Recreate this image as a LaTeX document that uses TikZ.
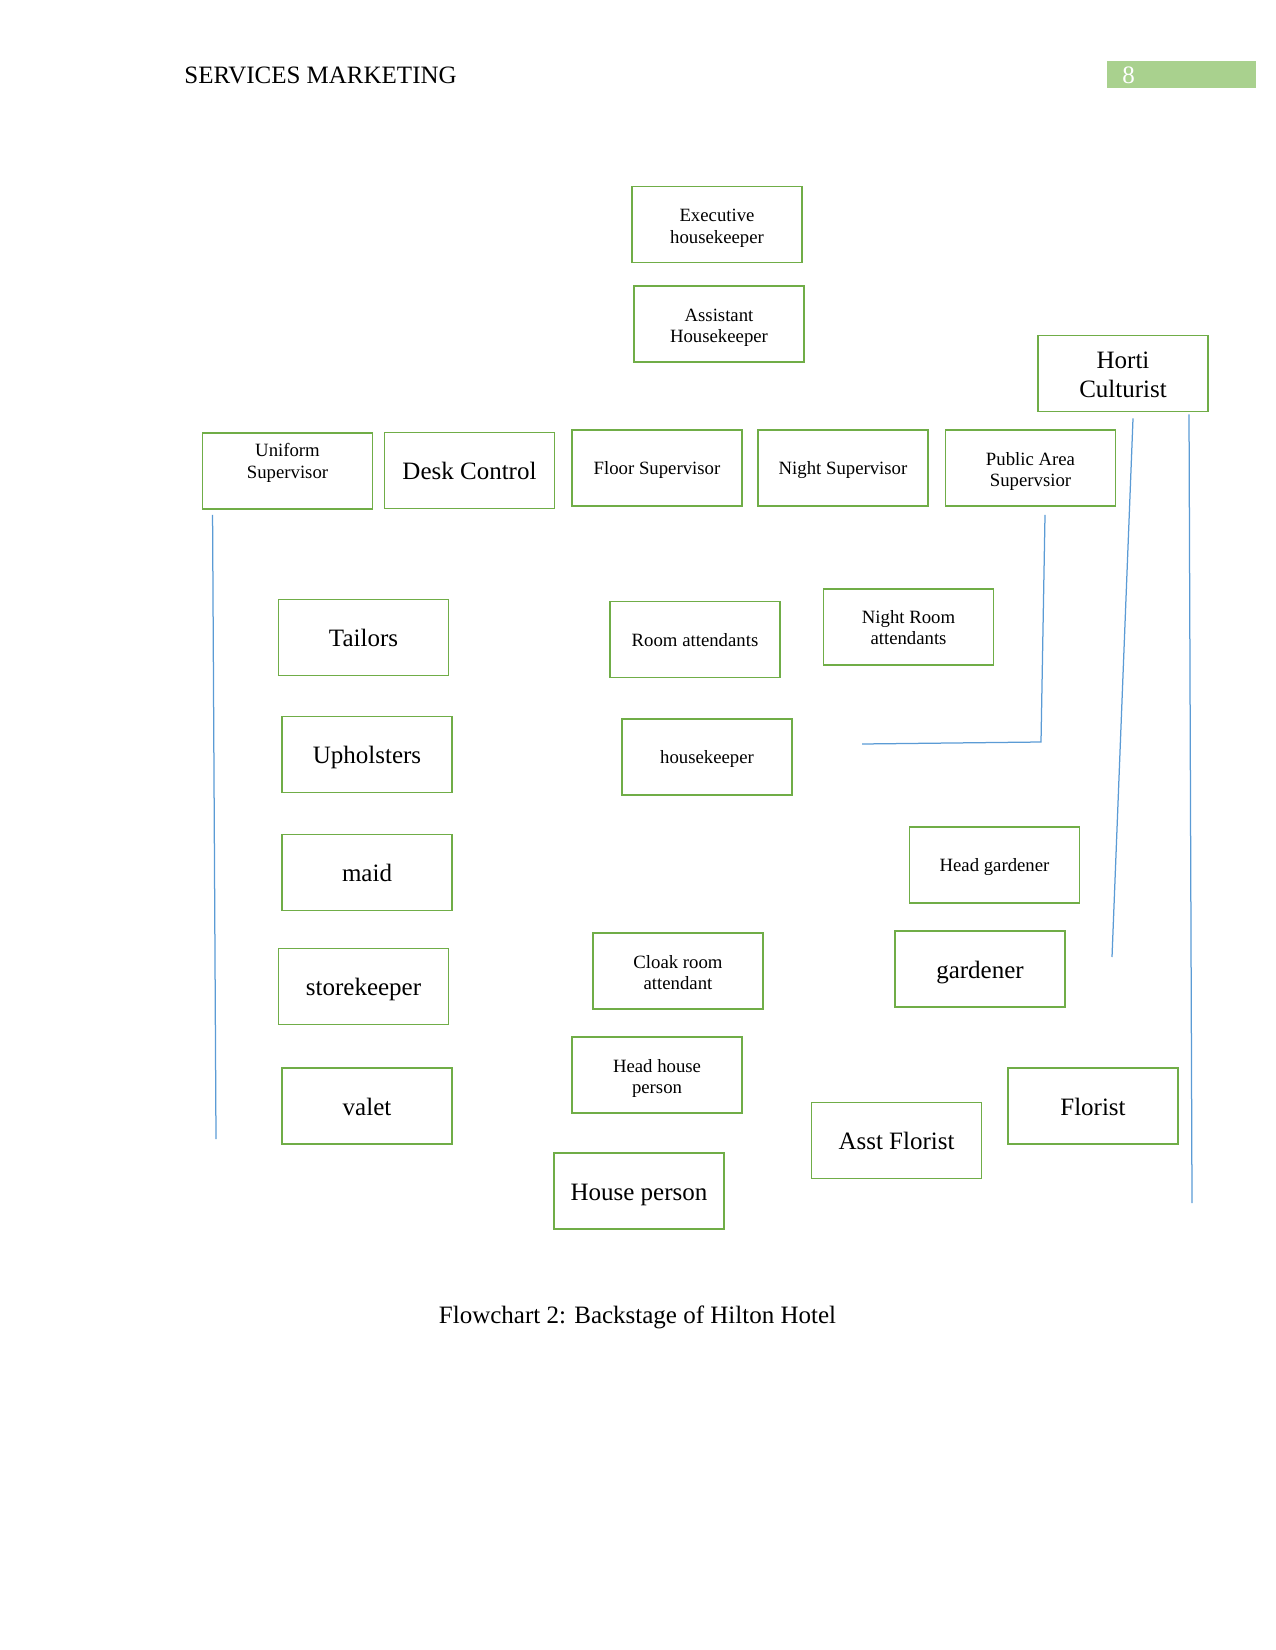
\documentclass[tikz,border=0pt]{standalone}
\usepackage{fontspec}
\setmainfont{Liberation Serif}
\usepackage{tikz}
\usetikzlibrary{positioning, calc}

\definecolor{boxGreen}{RGB}{112,173,71}
\definecolor{tabGreen}{RGB}{169,209,142}
\definecolor{lineBlue}{RGB}{91,155,213}

\newcommand\lineStrut{\rule[-0.22em]{0pt}{1.17em}}
\newcommand\twoRow[3][-1.8pt]{%
  \raisebox{#1}[\height][\depth]{\begin{tabular}{@{}c@{}}#2\\#3\end{tabular}}}

\begin{document}
\begin{tikzpicture}[
  x=0.48pt, y=-0.48pt,
  org/.style={
    draw=boxGreen, line width=0.9pt, inner sep=1pt,
    minimum width=81.6pt, minimum height=36.5pt, align=center,
    execute at begin node=\lineStrut, execute at end node=\lineStrut
  },
  orgSmall/.style={org, font=\fontsize{9}{10.3}\selectfont},
  orgBig/.style={org, font=\fontsize{12}{14.2}\selectfont},
  link/.style={draw=lineBlue, line width=0.6pt},
  pageText/.style={font=\fontsize{12}{14.4}\selectfont, inner sep=0pt}
]
\useasboundingbox (0,0) rectangle (1275,1650);

\node[pageText, anchor=base west] (header) at (184,84) {SERVICES MARKETING};
\fill[tabGreen] (1107,61) rectangle (1256,88);
\node[pageText, anchor=base west, text=white] (pageNum) at (1122,84) {8};

\node[orgSmall] (execHk) at (717,224.5) {\twoRow{Executive}{housekeeper}};
\node[orgSmall] (asstHk) at (719,324) {\twoRow{Assistant}{Housekeeper}};
\node[orgBig] (horti) at (1123,373.5) {\twoRow{Horti}{Culturist}};

\node[orgSmall] (uniformSup) at (287.5,471) {\twoRow[3.8pt]{Uniform}{Supervisor}};
\node[orgBig] (deskCtrl) at (469.5,470.5) {Desk Control};
\node[orgSmall] (floorSup) at (657,468) {Floor Supervisor};
\node[orgSmall] (nightSup) at (843,468) {Night Supervisor};
\node[orgSmall] (publicSup) at (1030.5,468) {\twoRow{Public Area}{Supervsior}};

\node[orgBig] (tailors) at (363.5,637.5) {Tailors};
\node[orgBig] (upholsters) at (367,754.5) {Upholsters};
\node[orgBig] (maid) at (367,872.5) {maid};
\node[orgBig] (storekeeper) at (363.5,986.5) {storekeeper};
\node[orgBig] (valet) at (367,1106) {valet};

\node[orgSmall] (roomAtt) at (695,639.5) {Room attendants};
\node[orgSmall] (nightRoomAtt) at (908.5,627) {\twoRow[-1.2pt]{Night Room}{attendants}};
\node[orgSmall] (housekeeper) at (707,757) {housekeeper};
\node[orgSmall] (headGardener) at (994.5,865) {Head gardener};
\node[orgSmall] (cloakRoom) at (678,971) {\twoRow{Cloak room}{attendant}};
\node[orgBig] (gardener) at (980,969) {gardener};
\node[orgSmall] (headHouse) at (657,1075) {\twoRow{Head house}{person}};
\node[orgBig] (florist) at (1093,1106) {Florist};
\node[orgBig] (asstFlorist) at (896.5,1140.5) {Asst Florist};
\node[orgBig] (housePerson) at (639,1191) {House person};

\node[pageText, anchor=base] (caption) at (637.5,1323) {Flowchart 2: Backstage of Hilton Hotel};

\coordinate (uniformEnd) at (216,1139);
\coordinate (publicCorner) at (1041,742);
\coordinate (publicEnd) at (862,744);
\coordinate (hortiEndA) at (1112,957);
\coordinate (hortiEndB) at (1192,1203);

\draw[link] ($(uniformSup.south west)+(11,5)$) -- (uniformEnd);
\draw[link] ($(publicSup.south)+(14.5,8)$) -- (publicCorner) -- (publicEnd);
\draw[link] ($(horti.south)+(10,6)$) -- (hortiEndA);
\draw[link] ($(horti.south)+(66,2)$) -- (hortiEndB);
\end{tikzpicture}
\end{document}
